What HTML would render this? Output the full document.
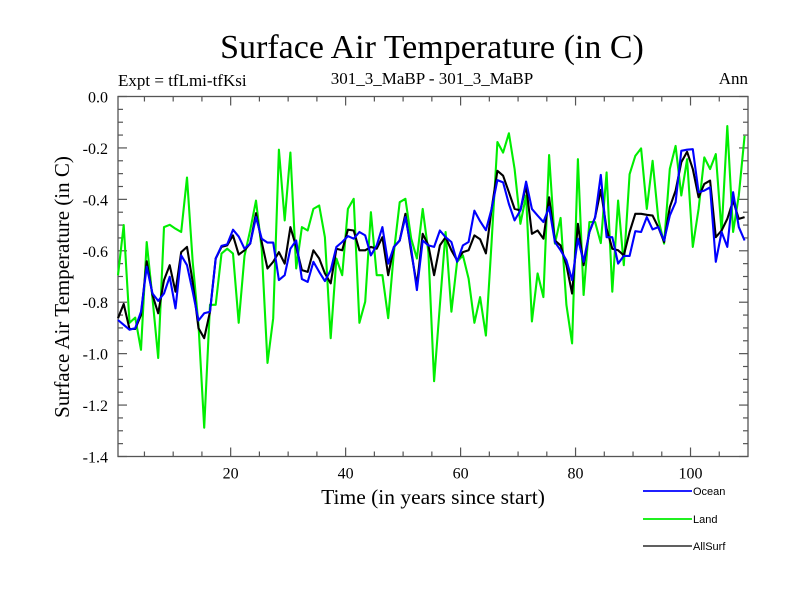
<!DOCTYPE html>
<html><head><meta charset="utf-8"><style>
html,body{margin:0;padding:0;background:#fff;}
svg{display:block;}
text{font-family:"Liberation Serif",serif;fill:#000;}
.leg{font-family:"Liberation Sans",sans-serif;font-size:11px;}
</style></head><body>
<svg id="chart" width="800" height="600" viewBox="0 0 800 600" xmlns="http://www.w3.org/2000/svg">
<text x="432" y="58" font-size="34" text-anchor="middle">Surface Air Temperature (in C)</text>
<text x="118" y="86" font-size="17">Expt = tfLmi-tfKsi</text>
<text x="432" y="84" font-size="17" text-anchor="middle">301_3_MaBP - 301_3_MaBP</text>
<text x="748" y="84" font-size="17" text-anchor="end">Ann</text>
<text transform="translate(69,287) rotate(-90)" font-size="21" text-anchor="middle">Surface Air Temperature (in C)</text>
<text x="433" y="504" font-size="21.5" text-anchor="middle">Time (in years since start)</text>
<g id="axes"></g>
<g id="series"></g>
<g id="legend"></g>
</svg>
<script>
const yTickValues = [0.0,-0.2,-0.4,-0.6,-0.8,-1.0,-1.2,-1.4];
const yTickLabels = ["0.0","-0.2","-0.4","-0.6","-0.8","-1.0","-1.2","-1.4"];
const xTickValues = [20,40,60,80,100];
const xTickLabels = ["20","40","60","80","100"];
const landValues = [-0.695,-0.50,-0.88,-0.86,-0.985,-0.566,-0.785,-1.017,-0.508,-0.499,-0.514,-0.527,-0.315,-0.643,-0.888,-1.288,-0.81,-0.81,-0.611,-0.592,-0.611,-0.88,
-0.62,-0.52,-0.405,-0.592,-1.036,-0.862,-0.207,-0.482,-0.218,-0.669,-0.508,-0.521,-0.437,-0.424,-0.547,-0.94,-0.63,-0.695,-0.437,-0.398,-0.88,-0.798,
-0.45,-0.695,-0.695,-0.862,-0.605,-0.411,-0.398,-0.553,-0.63,-0.437,-0.605,-1.107,-0.81,-0.527,-0.837,-0.643,-0.618,-0.708,-0.88,-0.78,-0.93,
-0.566,-0.177,-0.218,-0.143,-0.282,-0.495,-0.385,-0.875,-0.688,-0.78,-0.228,-0.572,-0.472,-0.81,-0.96,-0.244,-0.772,-0.488,-0.488,-0.57,
-0.295,-0.759,-0.405,-0.656,-0.302,-0.231,-0.202,-0.437,-0.250,-0.476,-0.572,-0.282,-0.192,-0.385,-0.244,-0.585,-0.437,-0.237,-0.282,-0.224,-0.527,-0.115,-0.527,-0.385,-0.153];
const allSurfValues = [-0.862,-0.807,-0.904,-0.904,-0.850,-0.641,-0.772,-0.843,-0.714,-0.656,-0.759,-0.605,-0.585,-0.721,-0.901,-0.940,-0.837,-0.630,-0.585,-0.579,-0.540,-0.615,
-0.598,-0.572,-0.454,-0.566,-0.669,-0.643,-0.605,-0.650,-0.508,-0.585,-0.675,-0.682,-0.598,-0.63,-0.688,-0.727,-0.592,-0.598,-0.518,-0.521,-0.598,-0.598,
-0.585,-0.592,-0.547,-0.695,-0.585,-0.560,-0.456,-0.605,-0.734,-0.534,-0.579,-0.695,-0.579,-0.547,-0.598,-0.637,-0.605,-0.598,-0.540,-0.555,-0.61,
-0.437,-0.289,-0.308,-0.372,-0.437,-0.443,-0.347,-0.534,-0.521,-0.553,-0.392,-0.560,-0.579,-0.656,-0.766,-0.495,-0.656,-0.527,-0.47,-0.363,
-0.514,-0.592,-0.598,-0.618,-0.527,-0.456,-0.456,-0.460,-0.463,-0.508,-0.566,-0.430,-0.366,-0.256,-0.215,-0.282,-0.392,-0.340,-0.327,-0.547,-0.521,-0.476,-0.405,-0.476,-0.469];
const oceanValues = [-0.869,-0.888,-0.907,-0.901,-0.837,-0.662,-0.766,-0.795,-0.766,-0.701,-0.824,-0.618,-0.656,-0.759,-0.871,-0.843,-0.837,-0.630,-0.581,-0.575,-0.518,-0.545,
-0.592,-0.572,-0.469,-0.553,-0.568,-0.568,-0.714,-0.695,-0.592,-0.560,-0.710,-0.721,-0.643,-0.682,-0.718,-0.675,-0.585,-0.566,-0.543,-0.553,-0.527,-0.540,
-0.618,-0.579,-0.508,-0.650,-0.585,-0.560,-0.469,-0.592,-0.753,-0.560,-0.579,-0.585,-0.521,-0.547,-0.566,-0.643,-0.579,-0.566,-0.444,-0.485,-0.52,
-0.437,-0.325,-0.334,-0.418,-0.482,-0.443,-0.331,-0.437,-0.463,-0.488,-0.430,-0.566,-0.598,-0.637,-0.714,-0.553,-0.643,-0.527,-0.47,-0.305,
-0.547,-0.547,-0.650,-0.620,-0.620,-0.524,-0.527,-0.469,-0.517,-0.508,-0.560,-0.463,-0.411,-0.211,-0.207,-0.205,-0.372,-0.366,-0.353,-0.643,-0.527,-0.585,-0.372,-0.508,-0.560];
const years = landValues.map((_, i) => i + 1);

const NS = "http://www.w3.org/2000/svg";
const L = 118, R = 748, T = 96.5, B = 456.5;
const xScale = t => L + (t - 0.4) / (110 - 0.4) * (R - L);
const yScale = v => T + (0 - v) / 1.4 * (B - T);
function mk(tag, attrs, parent) {
  const e = document.createElementNS(NS, tag);
  for (const k in attrs) e.setAttribute(k, attrs[k]);
  parent.appendChild(e);
  return e;
}
const axes = document.getElementById('axes');
const frame = mk('rect', {x:L, y:T, width:R-L, height:B-T, fill:'none', stroke:'#555', 'stroke-width':1.3}, axes);


for (let k = 0; k <= 28; k++) {
  const v = -k * 0.05, y = yScale(v), major = (k % 4 === 0);
  const len = major ? 9 : 5;
  const t1 = mk('line', {x1:L, x2:L+len, y1:y, y2:y, stroke:'#555', 'stroke-width':1.2}, axes);
  
  
  const t2 = mk('line', {x1:R, x2:R-len, y1:y, y2:y, stroke:'#555', 'stroke-width':1.2}, axes);
  
  
}
yTickValues.forEach((v, i) => {
  const t = mk('text', {x:L-10, y:yScale(v)+6, 'font-size':16, 'text-anchor':'end'}, axes);
  t.textContent = yTickLabels[i];
  
  
});
for (let yr = 5; yr < 110; yr += 5) {
  const x = xScale(yr), major = (yr % 20 === 0);
  const len = major ? 9 : 5;
  const t1 = mk('line', {x1:x, x2:x, y1:B, y2:B-len, stroke:'#555', 'stroke-width':1.2}, axes);
  
  
  const t2 = mk('line', {x1:x, x2:x, y1:T, y2:T+len, stroke:'#555', 'stroke-width':1.2}, axes);
  
  
}
xTickValues.forEach((v, i) => {
  const t = mk('text', {x:xScale(v), y:B+22, 'font-size':16, 'text-anchor':'middle'}, axes);
  t.textContent = xTickLabels[i];
  
  
});
const series = document.getElementById('series');
function drawLine(vals, color, name) {
  const pts = vals.map((v, i) => xScale(years[i] - 0.6).toFixed(1) + ',' + yScale(v).toFixed(1)).join(' ');
  const p = mk('polyline', {points:pts, fill:'none', stroke:color, 'stroke-width':2.1, 'stroke-linejoin':'round'}, series);
  
  
}
drawLine(landValues, '#00ee00', 'land-line');
drawLine(allSurfValues, '#000000', 'allsurf-line');
drawLine(oceanValues, '#0000ff', 'ocean-line');
const legend = document.getElementById('legend');
const legNames = ["Ocean","Land","AllSurf"];
const legColors = ["#0000ff","#00ee00","#000000"];
const legY = [491, 519, 546];
legNames.forEach((n, i) => {
  const ln = mk('line', {x1:643, x2:692, y1:legY[i], y2:legY[i], stroke:legColors[i], 'stroke-width': i===2 ? 1.3 : 1.8}, legend);
  
  
  const t = mk('text', {x:693, y:legY[i]+4, class:'leg'}, legend);
  t.textContent = n;
  
  
});
</script>
</body></html>
